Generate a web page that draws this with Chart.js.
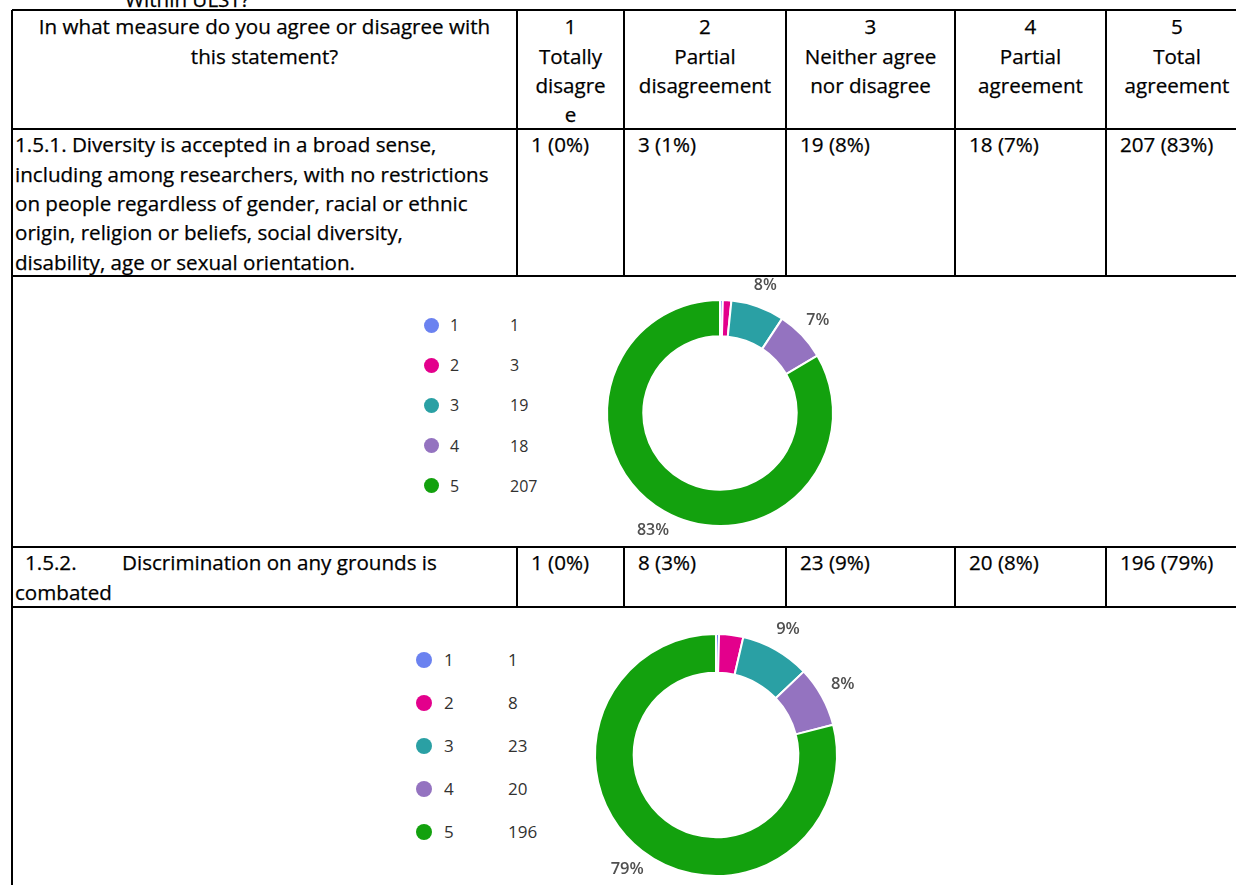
<!DOCTYPE html>
<html><head><meta charset="utf-8">
<script src="https://cdn.jsdelivr.net/npm/chart.js@4.4.1/dist/chart.umd.min.js"></script>
<style>
html,body{margin:0;padding:0;background:#fff;overflow:hidden;width:1236px;height:885px;}
#page{position:relative;width:1236px;height:885px;overflow:hidden;font-family:"Open Sans",sans-serif;color:#000;}
.ln{position:absolute;background:#000;}
.tx{position:absolute;font-size:20.6px;line-height:29.3px;white-space:pre;-webkit-text-stroke:0.25px #000;}
.c{text-align:center;}
.leg{position:absolute;font-family:"Open Sans",sans-serif;color:#323130;white-space:nowrap;}
.dot{position:absolute;border-radius:50%;}
canvas{position:absolute;}
</style></head><body><div id="page"></div>
<script>
// ---- data ----
const categories = ['1', '2', '3', '4', '5'];
const headerLabels = ['Totally\ndisagre\ne', 'Partial\ndisagreement', 'Neither agree\nnor disagree', 'Partial\nagreement', 'Total\nagreement'];
const questionText = 'In what measure do you agree or disagree with\nthis statement?';
const topText = 'Within ULST?';
const statement1Lines = ['1.5.1. Diversity is accepted in a broad sense,', 'including among researchers, with no restrictions', 'on people regardless of gender, racial or ethnic', 'origin, religion or beliefs, social diversity,', 'disability, age or sexual orientation.'];
const statement2Number = '1.5.2.';
const statement2Lines = ['Discrimination on any grounds is', 'combated'];
const values1 = [1, 3, 19, 18, 207];
const values2 = [1, 8, 23, 20, 196];
const colors = ['#6B82F0', '#E3008C', '#2AA0A4', '#9473C0', '#13A10E'];

// ---- layout ----
const page = document.getElementById('page');
const colX = [12, 517, 624, 786, 955, 1106, 1248];
const rowY = [10, 129, 276, 547, 607, 900];
function el(tag, cls, css, html) {
  const d = document.createElement(tag); if (cls) d.className = cls;
  Object.assign(d.style, css); if (html !== undefined) d.textContent = html; page.appendChild(d); return d;
}
function hline(y, x0, x1) { el('div', 'ln', {left: x0 + 'px', top: (y - 1) + 'px', width: (x1 - x0 + 1) + 'px', height: '2px'}); }
function vline(x, y0, y1) { el('div', 'ln', {left: (x - 1) + 'px', top: y0 + 'px', width: '2px', height: (y1 - y0 + 1) + 'px'}); }
for (let i = 0; i < 5; i++) hline(rowY[i], colX[0], colX[6]);
vline(colX[0], rowY[0], rowY[5]);
[[0, 1], [1, 2], [3, 4]].forEach(([a, b]) => { for (let c = 1; c <= 6; c++) vline(colX[c], rowY[a], rowY[b]); });

el('div', 'tx', {left: '125px', top: '-15px'}, topText);
// header
el('div', 'tx c', {left: colX[0] + 'px', width: (colX[1] - colX[0]) + 'px', top: '12.4px'}, questionText);
categories.forEach((c, i) => {
  el('div', 'tx c', {left: colX[i + 1] + 'px', width: (colX[i + 2] - colX[i + 1]) + 'px', top: '12.4px'}, c + '\n' + headerLabels[i]);
});
function cellText(vals) {
  const tot = vals.reduce((a, b) => a + b, 0);
  return vals.map(v => v + ' (' + Math.round(v / tot * 100) + '%)');
}
// row 1
el('div', 'tx', {left: '15px', top: '130.4px'}, statement1Lines.join('\n'));
cellText(values1).forEach((t, i) => el('div', 'tx', {left: (colX[i + 1] + 14) + 'px', top: '130.4px'}, t));
// row 2
el('div', 'tx', {left: '25px', top: '548.4px'}, statement2Number);
el('div', 'tx', {left: '122px', top: '548.4px'}, statement2Lines[0]);
el('div', 'tx', {left: '15px', top: '577.7px'}, statement2Lines[1]);
cellText(values2).forEach((t, i) => el('div', 'tx', {left: (colX[i + 1] + 14) + 'px', top: '548.4px'}, t));

// legends
function legend(vals, dotX, y0, dy, d, fs, labX, valX) {
  categories.forEach((c, i) => {
    const cy = y0 + dy * i;
    el('div', 'dot', {left: (dotX - d / 2) + 'px', top: (cy - d / 2) + 'px', width: d + 'px', height: d + 'px', background: colors[i]});
    el('div', 'leg', {left: labX + 'px', top: (cy - 12) + 'px', fontSize: fs + 'px', lineHeight: '24px'}, c);
    el('div', 'leg', {left: valX + 'px', top: (cy - 12) + 'px', fontSize: fs + 'px', lineHeight: '24px'}, String(vals[i]));
  });
}
legend(values1, 431, 325, 40.2, 15, 16, 450, 510);
legend(values2, 424, 660, 43, 16, 17, 444, 508);

// doughnuts
const pctLabels = {
  id: 'pctLabels',
  afterDatasetsDraw(chart, args, opts) {
    const ctx = chart.ctx, ds = chart.data.datasets[0];
    const total = ds.data.reduce((a, b) => a + b, 0);
    chart.getDatasetMeta(0).data.forEach((arc, i) => {
      const pct = Math.round(ds.data[i] / total * 100);
      if (pct < opts.min) return;
      const p = arc.getProps(['x', 'y', 'startAngle', 'endAngle', 'outerRadius'], true);
      const mid = (p.startAngle + p.endAngle) / 2, r = p.outerRadius + opts.offset;
      ctx.save(); ctx.font = opts.font; ctx.fillStyle = opts.color;
      ctx.textAlign = 'center'; ctx.textBaseline = 'middle';
      ctx.fillText(pct + '%', p.x + Math.cos(mid) * r, p.y + Math.sin(mid) * r);
      ctx.restore();
    });
  }
};
function doughnut(vals, left, top, w, h, radius, cutout, offset, font) {
  const cv = document.createElement('canvas');
  cv.width = w; cv.height = h; cv.style.left = left + 'px'; cv.style.top = top + 'px';
  cv.style.width = w + 'px'; cv.style.height = h + 'px';
  page.appendChild(cv);
  new Chart(cv, {
    type: 'doughnut',
    data: {labels: categories, datasets: [{data: vals, backgroundColor: colors, borderColor: '#ffffff', borderWidth: 2, radius: radius, cutout: cutout, hoverOffset: 0}]},
    options: {
      responsive: false, animation: false, events: [],
      layout: {padding: 0},
      plugins: {legend: {display: false}, tooltip: {enabled: false},
        pctLabels: {min: 5, offset: offset, font: font, color: '#505050'}}
    },
    plugins: [pctLabels]
  });
}
doughnut(values1, 560, 278, 320, 270, 113, 91, 22, '600 16px "Open Sans"');
doughnut(values2, 556, 610, 320, 290, 121, 98, 24, '600 16.5px "Open Sans"');
</script></body></html>
